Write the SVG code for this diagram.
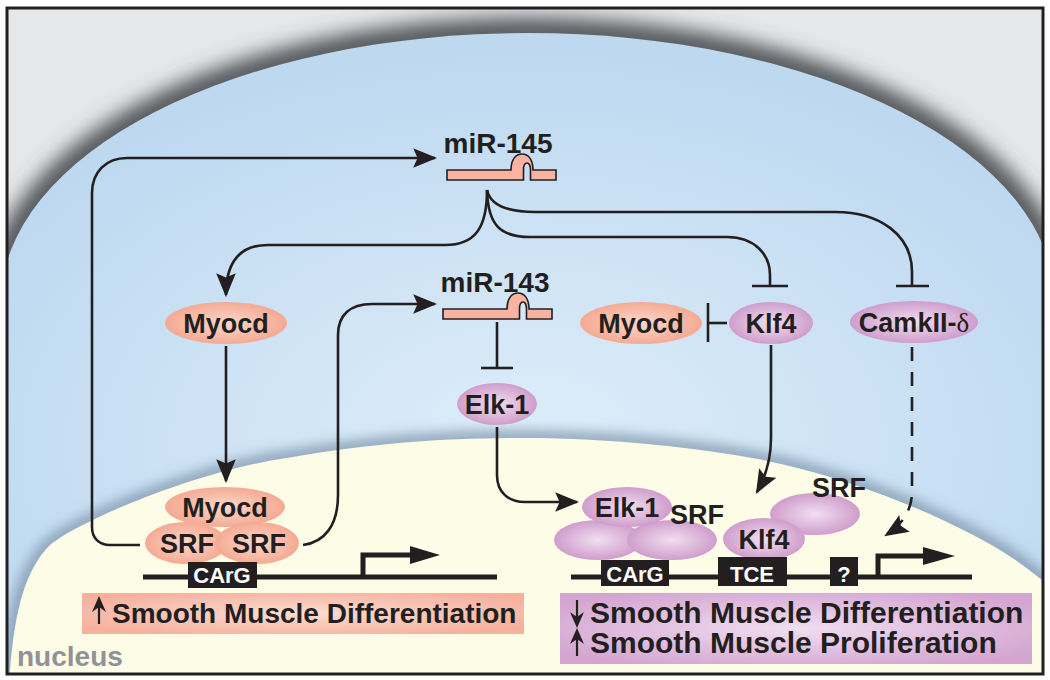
<svg xmlns="http://www.w3.org/2000/svg" width="1050" height="680" viewBox="0 0 1050 680">
<style>
.t{font-family:"Liberation Sans",Arial,sans-serif;font-weight:bold;fill:#231f20;text-anchor:middle}
.w{font-family:"Liberation Sans",Arial,sans-serif;font-weight:bold;fill:#ffffff;text-anchor:middle}
.c{fill:none;stroke:#231f20;stroke-width:2.6}
.dna{stroke:#231f20;stroke-width:5}
.rna{fill:#f8b4a0;stroke:#231f20;stroke-width:1.6}
.sal{fill:url(#gs)}
.pur{fill:url(#gp)}
</style>
<defs>
<radialGradient id="gblue" cx="0.5" cy="0.62" r="0.6">
<stop offset="0" stop-color="#deeefa"/><stop offset="1" stop-color="#bed8f0"/>
</radialGradient>
<radialGradient id="gs" cx="0.5" cy="0.5" r="0.55">
<stop offset="0" stop-color="#fcd9cc"/><stop offset="1" stop-color="#f4a58d"/>
</radialGradient>
<radialGradient id="gp" cx="0.5" cy="0.5" r="0.55">
<stop offset="0" stop-color="#f1dff0"/><stop offset="1" stop-color="#cc97c9"/>
</radialGradient>
<radialGradient id="gbs" cx="0.5" cy="0.5" r="0.6">
<stop offset="0" stop-color="#fcdcd2"/><stop offset="1" stop-color="#f6b09c"/>
</radialGradient>
<radialGradient id="gbp" cx="0.5" cy="0.5" r="0.6">
<stop offset="0" stop-color="#f0def0"/><stop offset="1" stop-color="#d4a5d1"/>
</radialGradient>
<filter id="blur" x="-0.2" y="-0.2" width="1.4" height="1.4"><feGaussianBlur stdDeviation="10"/></filter>
<filter id="blur2" x="-0.2" y="-0.2" width="1.4" height="1.4"><feGaussianBlur stdDeviation="7"/></filter>
<clipPath id="frame"><rect x="7" y="8" width="1036" height="666"/></clipPath>
<marker id="ah" markerUnits="userSpaceOnUse" markerWidth="24" markerHeight="20" viewBox="0 0 22 18" refX="20" refY="9" orient="auto">
<path d="M0,0 L22,9 L0,18 L4,9 Z" fill="#231f20"/>
</marker>
</defs>

<g id="background">
<rect x="0" y="0" width="1050" height="680" fill="#ffffff"/>
<rect x="7" y="8" width="1036" height="666" fill="#e6e7e9"/>
<g clip-path="url(#frame)">
<path d="M1,302 A527,269 0 0 1 1055,302 L1055,700 L1,700 Z" fill="none" stroke="#505256" stroke-width="30" filter="url(#blur)"/>
<path d="M1,302 A527,269 0 0 1 1055,302 L1055,700 L1,700 Z" fill="url(#gblue)"/>
<path d="M8,690 L10,670 C15,610 25,570 50,545 C80,520 200,470 287,458 C380,442 450,438 525,438 C610,438 700,448 763,460 C860,480 950,520 1000,550 C1020,562 1040,578 1060,595 L1060,700 Z" fill="none" stroke="#7c93aa" stroke-width="12" filter="url(#blur2)"/>
<path d="M8,690 L10,670 C15,610 25,570 50,545 C80,520 200,470 287,458 C380,442 450,438 525,438 C610,438 700,448 763,460 C860,480 950,520 1000,550 C1020,562 1040,578 1060,595 L1060,700 Z" fill="#fdfce7"/>
</g>
<rect x="7" y="8" width="1036" height="666" fill="none" stroke="#231f20" stroke-width="3"/>
<text x="17" y="666" style="font-family:'Liberation Sans',Arial,sans-serif;font-weight:bold;font-size:28px;fill:#909296">nucleus</text>
</g>

<g id="connectors">
<path class="c" d="M140,545 L110,545 C99,545 92,538 92,527 L92,193 C92,172 106,158 127,158 L435,158" marker-end="url(#ah)"/>
<path class="c" d="M303,545 C325,542 338,525 338,495 L338,335 C338,315 350,304 372,304 L435,304" marker-end="url(#ah)"/>
<path class="c" d="M487,190 C487,228 475,245 445,245 L268,245 C243,245 226,258 226,295" marker-end="url(#ah)"/>
<path class="c" d="M487,190 C490,204 505,212 535,212 L835,212 C880,212 912,235 912,272 L912,286"/>
<line class="c" x1="896" y1="286" x2="929" y2="286"/>
<path class="c" d="M487,190 C488,225 500,237 530,237 L727,237 C755,237 770,255 770,275 L770,286"/>
<line class="c" x1="752" y1="286" x2="788" y2="286"/>
<path class="c" d="M226,346 L226,481" marker-end="url(#ah)"/>
<path class="c" d="M497,322 L497,368"/>
<line class="c" x1="481" y1="368" x2="513" y2="368"/>
<path class="c" d="M497,427 L497,475 C497,492 508,502 525,502 L577,502" marker-end="url(#ah)"/>
<path class="c" d="M727,323 L708,323"/>
<line class="c" x1="708" y1="303" x2="708" y2="342"/>
<path class="c" d="M771,345 L771,438 C771,460 766,476 757,492" marker-end="url(#ah)"/>
<path class="c" d="M912,347 L912,492 C912,510 902,525 886,535" stroke-dasharray="14 11" marker-end="url(#ah)"/>
</g>

<g id="mir145">
<text class="t" x="498" y="153" font-size="28">miR-145</text>
<path class="rna" d="M447,170 L511,170 C511,159 516,154 522,154 C528,154 533,159 533,170 L556,170 L556,180 L530.5,180 L530.5,170 C530.5,165 528.5,163 527,163 C525,163 523.5,165 523.5,170 L523.5,180 L447,180 Z"/>
</g>

<g id="mir143">
<text class="t" x="495" y="292" font-size="28">miR-143</text>
<path class="rna" d="M443,309 L507,309 C507,298 512,293 518,293 C524,293 529,298 529,309 L552,309 L552,319 L526.5,319 L526.5,309 C526.5,304 524.5,302 523,302 C521,302 519.5,304 519.5,309 L519.5,319 L443,319 Z"/>
</g>

<g id="myocd-top">
<ellipse class="sal" cx="226" cy="323" rx="61" ry="21"/>
<text class="t" x="226" y="333" font-size="27">Myocd</text>
</g>

<g id="myocd-mid">
<ellipse class="sal" cx="641" cy="323" rx="61" ry="21"/>
<text class="t" x="641" y="333" font-size="27">Myocd</text>
</g>

<g id="klf4-mid">
<ellipse class="pur" cx="771" cy="323" rx="42" ry="21"/>
<text class="t" x="771" y="333" font-size="27">Klf4</text>
</g>

<g id="camk">
<ellipse class="pur" cx="914" cy="322" rx="64" ry="21"/>
<text class="t" x="914" y="332" font-size="27">CamkII-<tspan style="font-family:'Liberation Serif','Times New Roman',serif;font-weight:normal">δ</tspan></text>
</g>

<g id="elk1-mid">
<ellipse class="pur" cx="497" cy="404" rx="40" ry="21"/>
<text class="t" x="497" y="414" font-size="27">Elk-1</text>
</g>

<g id="complex-left">
<ellipse class="sal" cx="225" cy="507" rx="60" ry="20"/>
<ellipse class="sal" cx="186" cy="543" rx="41" ry="21"/>
<ellipse class="sal" cx="257" cy="543" rx="42" ry="21"/>
<text class="t" x="225" y="517" font-size="27">Myocd</text>
<text class="t" x="187" y="553" font-size="27">SRF</text>
<text class="t" x="259" y="553" font-size="27">SRF</text>
</g>

<g id="promoter-left">
<line class="dna" x1="143" y1="577" x2="497" y2="577"/>
<rect x="188" y="562" width="69" height="26" fill="#231f20"/>
<text class="w" x="222" y="583" font-size="22">CArG</text>
<path d="M363,577 L363,555 L412,555" fill="none" stroke="#231f20" stroke-width="5"/>
<path d="M410,546 L440,555 L410,564 Z" fill="#231f20"/>
</g>

<g id="outcome-left">
<rect x="82" y="593" width="442" height="41" fill="url(#gbs)"/>
<line x1="99" y1="624" x2="99" y2="606" stroke="#231f20" stroke-width="2.2"/>
<path d="M92,612 L99,596 L106,612 L99,607 Z" fill="#231f20"/>
<text class="t" x="112" y="623" font-size="28" style="text-anchor:start">Smooth Muscle Differentiation</text>
</g>

<g id="complex-right">
<ellipse class="pur" cx="598" cy="540" rx="44" ry="20"/>
<ellipse class="pur" cx="672" cy="540" rx="45" ry="20"/>
<ellipse class="pur" cx="627" cy="507" rx="45" ry="20"/>
<text class="t" x="627" y="517" font-size="27">Elk-1</text>
<text class="t" x="697" y="524" font-size="27">SRF</text>
<ellipse class="pur" cx="815" cy="514" rx="45" ry="21"/>
<ellipse class="pur" cx="764" cy="539" rx="41" ry="21"/>
<text class="t" x="764" y="549" font-size="27">Klf4</text>
<text class="t" x="839" y="497" font-size="27">SRF</text>
</g>

<g id="promoter-right">
<line class="dna" x1="571" y1="577" x2="972" y2="577"/>
<rect x="601" y="560" width="68" height="26" fill="#231f20"/>
<text class="w" x="635" y="582" font-size="22">CArG</text>
<rect x="718" y="557" width="69" height="29" fill="#231f20"/>
<text class="w" x="752" y="582" font-size="22">TCE</text>
<rect x="830" y="557" width="28" height="29" fill="#231f20"/>
<text class="w" x="844" y="582" font-size="22">?</text>
<path d="M878,577 L878,556 L926,556" fill="none" stroke="#231f20" stroke-width="5"/>
<path d="M923,547 L955,556 L923,565 Z" fill="#231f20"/>
</g>

<g id="outcome-right">
<rect x="560" y="593" width="472" height="71" fill="url(#gbp)"/>
<line x1="577" y1="600" x2="577" y2="618" stroke="#231f20" stroke-width="2.2"/>
<path d="M570,612 L577,628 L584,612 L577,617 Z" fill="#231f20"/>
<text class="t" x="590" y="623" font-size="30" style="text-anchor:start">Smooth Muscle Differentiation</text>
<line x1="577" y1="656" x2="577" y2="638" stroke="#231f20" stroke-width="2.2"/>
<path d="M570,644 L577,628 L584,644 L577,639 Z" fill="#231f20"/>
<text class="t" x="590" y="653" font-size="30" style="text-anchor:start">Smooth Muscle Proliferation</text>
</g>
</svg>
